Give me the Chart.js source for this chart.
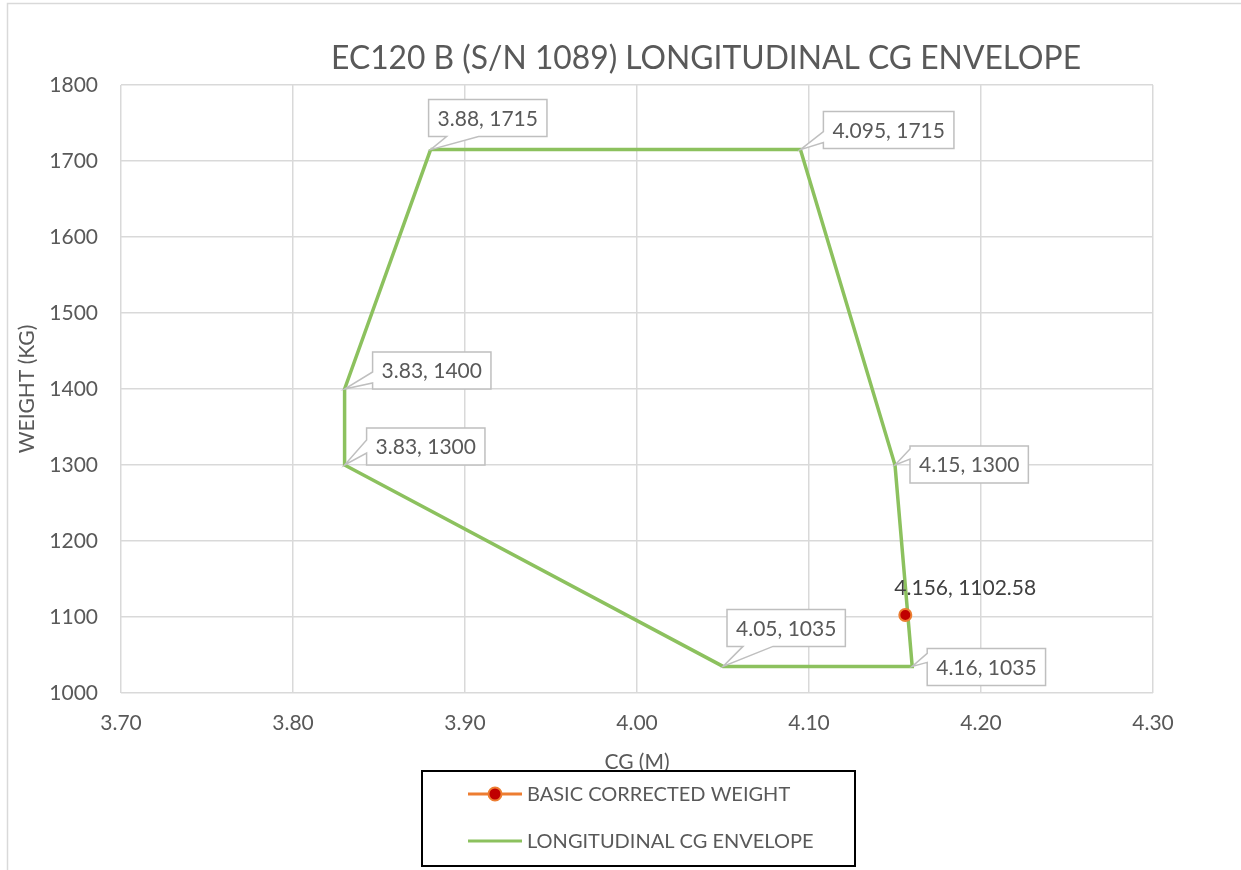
<!DOCTYPE html>
<html>
<head>
<meta charset="utf-8">
<script src="https://cdn.jsdelivr.net/npm/chart.js@4.4.0/dist/chart.umd.min.js"></script>
<style>
	html, body { margin: 0; padding: 0; background: #fff; }
	canvas { display: block; }
</style>
</head>
<body>
<canvas id="cg-chart" width="1241" height="870"></canvas>
<script>
const chartTitle = 'EC120 B (S/N 1089) LONGITUDINAL CG ENVELOPE';
const xTitle = 'CG (M)';
const yTitle = 'WEIGHT (KG)';

// envelope corners, closed back to the start
const envelopeCg = [3.88, 4.095, 4.15, 4.16, 4.05, 3.83, 3.83, 3.88];
const envelopeWeight = [1715, 1715, 1300, 1035, 1035, 1300, 1400, 1715];
const envelopeLabels = ['3.88, 1715', '4.095, 1715', '4.15, 1300', '4.16, 1035', '4.05, 1035', '3.83, 1300', '3.83, 1400', null];

const basicCg = [4.156];
const basicWeight = [1102.58];
const basicLabels = ['4.156, 1102.58'];

const cgRange = [3.7, 4.3];
const weightRange = [1000, 1800];

const font = 'Lato, "Open Sans", sans-serif';
const textColor = '#595959';
const green = '#8CC15E';
const orange = '#ED7D31';
const red = '#C00000';

// where each callout box sits relative to its point
const calloutPlacement = [
	{ dx: -2, dy: -50, side: 'bottom', a: 18, b: 50 },
	{ dx: 23, dy: -38, side: 'left', a: 20, b: 31 },
	{ dx: 15, dy: -19, side: 'left', a: 3, b: 13 },
	{ dx: 15, dy: -18, side: 'left', a: 5, b: 14 },
	{ dx: 4, dy: -57, side: 'bottom', a: 16, b: 46 },
	{ dx: 22, dy: -37, side: 'left', a: 12, b: 25 },
	{ dx: 28, dy: -37, side: 'left', a: 20, b: 31 },
	null
];

const frame = {
	id: 'frame',
	beforeDraw(chart) {
		const c = chart.ctx;
		c.save();
		c.fillStyle = '#fff';
		c.fillRect(0, 0, chart.width, chart.height);
		c.strokeStyle = '#D9D9D9';
		c.lineWidth = 1.5;
		c.strokeRect(7.5, 3.5, 2000, 2000);
		c.restore();
	},
	afterDraw(chart) {
		const c = chart.ctx;
		c.save();
		c.fillStyle = textColor;
		c.font = '32px ' + font;
		c.textBaseline = 'alphabetic';
		c.textAlign = 'left';
		c.fillText(chartTitle, 331, 69, 750);
		c.restore();
	}
};

const callouts = {
	id: 'callouts',
	afterDatasetsDraw(chart) {
		const c = chart.ctx;
		const env = chart.getDatasetMeta(1).data;
		c.save();
		c.font = '21px ' + font;
		c.textBaseline = 'middle';
		c.textAlign = 'left';

		envelopeLabels.forEach((txt, i) => {
			const p = calloutPlacement[i];
			if (!txt || !p) return;
			const px = env[i].x, py = env[i].y;
			const w = c.measureText(txt).width + 18, h = 37;
			const x0 = px + p.dx, y0 = py + p.dy;

			c.beginPath();
			c.moveTo(x0, y0);
			c.lineTo(x0 + w, y0);
			c.lineTo(x0 + w, y0 + h);
			if (p.side === 'bottom') {
				c.lineTo(x0 + p.b, y0 + h);
				c.lineTo(px, py);
				c.lineTo(x0 + p.a, y0 + h);
				c.lineTo(x0, y0 + h);
			} else {
				c.lineTo(x0, y0 + h);
				c.lineTo(x0, y0 + p.b);
				c.lineTo(px, py);
				c.lineTo(x0, y0 + p.a);
			}
			c.closePath();
			c.fillStyle = '#fff';
			c.fill();
			c.strokeStyle = '#BFBFBF';
			c.lineWidth = 1.5;
			c.stroke();

			c.fillStyle = textColor;
			c.fillText(txt, x0 + 9, y0 + h / 2 + 1);
		});

		const pts = chart.getDatasetMeta(0).data;
		c.fillStyle = '#404040';
		basicLabels.forEach((txt, i) => {
			c.fillText(txt, pts[i].x - 11, pts[i].y - 27);
		});
		c.restore();
	},
	afterDraw(chart) {
		// legend box
		const c = chart.ctx;
		c.save();
		c.fillStyle = '#fff';
		c.fillRect(422, 771, 433, 95);
		c.strokeStyle = '#000';
		c.lineWidth = 2;
		c.strokeRect(422, 771, 433, 95);

		const rows = [794, 841];
		chart.data.datasets.forEach((ds, i) => {
			const y = rows[i];
			c.strokeStyle = ds.borderColor;
			c.lineWidth = 3;
			c.beginPath();
			c.moveTo(468, y);
			c.lineTo(522, y);
			c.stroke();
			if (ds.pointRadius > 0) {
				c.beginPath();
				c.arc(495, y, 6.5, 0, Math.PI * 2);
				c.fillStyle = ds.pointBackgroundColor;
				c.fill();
				c.lineWidth = 2;
				c.strokeStyle = ds.pointBorderColor;
				c.stroke();
			}
			c.fillStyle = textColor;
			c.font = '20px ' + font;
			c.textBaseline = 'middle';
			c.fillText(ds.label, 527, y + 1);
		});
		c.restore();
	}
};

const ctx = document.getElementById('cg-chart').getContext('2d');

new Chart(ctx, {
	type: 'scatter',
	data: {
		datasets: [{
			label: 'BASIC CORRECTED WEIGHT',
			data: basicCg.map((x, i) => ({ x, y: basicWeight[i] })),
			showLine: true,
			borderColor: orange,
			borderWidth: 3,
			pointRadius: 6,
			pointBorderWidth: 2,
			pointBackgroundColor: red,
			pointBorderColor: orange
		}, {
			label: 'LONGITUDINAL CG ENVELOPE',
			data: envelopeCg.map((x, i) => ({ x, y: envelopeWeight[i] })),
			showLine: true,
			borderColor: green,
			borderWidth: 3.5,
			borderJoinStyle: 'miter',
			tension: 0,
			pointRadius: 0
		}]
	},
	options: {
		responsive: false,
		animation: false,
		devicePixelRatio: 1,
		layout: { padding: { left: 8, right: 88, top: 85, bottom: 95 } },
		plugins: {
			legend: { display: false },
			title: { display: false },
			tooltip: { enabled: false }
		},
		scales: {
			x: {
				type: 'linear',
				min: cgRange[0],
				max: cgRange[1],
				afterFit(scale) { scale.height = 82; },
				border: { display: false },
				grid: { color: '#D9D9D9', lineWidth: 1.5, drawTicks: false },
				ticks: {
					stepSize: 0.1,
					padding: 18,
					color: textColor,
					font: { family: font, size: 21 },
					callback: v => v.toFixed(2)
				},
				title: {
					display: true,
					text: xTitle,
					color: textColor,
					font: { family: font, size: 21 },
					padding: { top: 0, bottom: 0 }
				}
			},
			y: {
				type: 'linear',
				min: weightRange[0],
				max: weightRange[1],
				afterFit(scale) { scale.width = 113; },
				border: { display: false },
				grid: { color: '#D9D9D9', lineWidth: 1.5, drawTicks: false },
				ticks: {
					stepSize: 100,
					padding: 23,
					color: textColor,
					font: { family: font, size: 21 },
					callback: v => String(v)
				},
				title: {
					display: true,
					text: yTitle,
					color: textColor,
					font: { family: font, size: 21 },
					padding: { top: 7, bottom: 0 }
				}
			}
		}
	},
	plugins: [frame, callouts]
});
</script>
</body>
</html>
